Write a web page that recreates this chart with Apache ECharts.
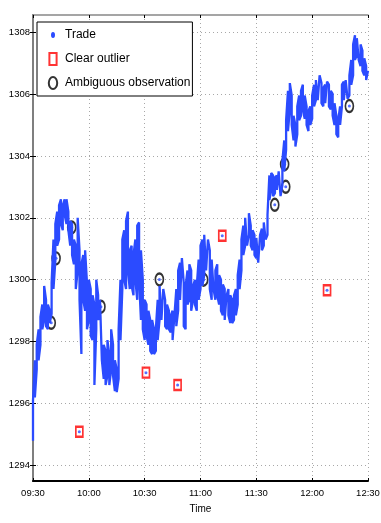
<!DOCTYPE html>
<html lang="en">
<head>
<meta charset="UTF-8">
<title>Trades and outliers</title>
<script src="https://cdn.jsdelivr.net/npm/echarts@6.0.0/dist/echarts.min.js"></script>
<style>
    html, body { margin: 0; padding: 0; background: #fff; }
    #chart { width: 381px; height: 523px; }
</style>
</head>
<body>
<div id="chart"></div>
<script type="text/javascript">
    // time axis is in minutes after 09:30
    var xTickValues = [0, 30, 60, 90, 120, 150, 180];
    var xTickLabels = ['09:30', '10:00', '10:30', '11:00', '11:30', '12:00', '12:30'];
    var yTickValues = [1294, 1296, 1298, 1300, 1302, 1304, 1306, 1308];

    // trade band, read minute by minute (low / high of the cloud)
    var tradeTime = [
        0, 1, 2, 3, 4, 5, 6, 7, 8, 9, 10, 11, 12, 13, 14, 15, 16, 17, 18, 19,
        20, 21, 22, 23, 24, 25, 26, 27, 28, 29, 30, 31, 32, 33, 34, 35, 36, 37, 38, 39,
        40, 41, 42, 43, 44, 45, 46, 47, 48, 49, 50, 51, 52, 53, 54, 55, 56, 57, 58, 59,
        60, 61, 62, 63, 64, 65, 66, 67, 68, 69, 70, 71, 72, 73, 74, 75, 76, 77, 78, 79,
        80, 81, 82, 83, 84, 85, 86, 87, 88, 89, 90, 91, 92, 93, 94, 95, 96, 97, 98, 99,
        100, 101, 102, 103, 104, 105, 106, 107, 108, 109, 110, 111, 112, 113, 114, 115, 116, 117, 118, 119,
        120, 121, 122, 123, 124, 125, 126, 127, 128, 129, 130, 131, 132, 133, 134, 135, 136, 137, 138, 139,
        140, 141, 142, 143, 144, 145, 146, 147, 148, 149, 150, 151, 152, 153, 154, 155, 156, 157, 158, 159,
        160, 161, 162, 163, 164, 165, 166, 167, 168, 169, 170, 171, 172, 173, 174, 175, 176, 177, 178, 179,
        180
    ];
    var tradeLow = [
        1294.8, 1296.2, 1297.1, 1297.4, 1297.9, 1298.4, 1298.7, 1298.5, 1298.4, 1298.6,
        1298.9, 1299.7, 1300.6, 1301.1, 1301.3, 1301.8, 1301.6, 1302.1, 1301.8, 1301.6,
        1301.1, 1300.8, 1300.5, 1299.7, 1300.3, 1299.35, 1297.6, 1299.35, 1299.0, 1298.4,
        1298.7, 1298.2, 1298.05, 1296.6, 1298.4, 1298.7, 1298.9, 1297.4, 1296.8, 1296.6,
        1296.9, 1296.6, 1297.1, 1296.9, 1296.4, 1296.37, 1296.8, 1298.05, 1299.7, 1300.0,
        1299.7, 1300.3, 1299.7, 1299.8, 1299.5, 1300.0, 1299.35, 1300.0, 1298.7, 1298.4,
        1298.05, 1298.2, 1297.9, 1297.7, 1297.6, 1297.6, 1297.7, 1298.05, 1298.7, 1298.7,
        1298.7, 1298.5, 1298.4, 1298.4, 1298.3, 1298.05, 1298.1, 1298.5, 1299.0, 1299.35,
        1299.35, 1298.5, 1298.4, 1299.2, 1299.35, 1299.0, 1299.35, 1299.2, 1299.0, 1299.35,
        1299.7, 1299.8, 1300.15, 1300.3, 1300.3, 1299.7, 1299.35, 1299.7, 1299.35, 1299.5,
        1299.2, 1299.0, 1298.85, 1298.7, 1298.7, 1298.85, 1298.6, 1298.6, 1298.7, 1298.85,
        1299.2, 1299.7, 1300.3, 1300.8, 1301.1, 1301.1, 1301.45, 1301.1, 1300.95, 1300.8,
        1300.7, 1300.55, 1300.55, 1300.95, 1301.1, 1301.3, 1301.45, 1302.57, 1302.9, 1302.7,
        1302.8, 1302.9, 1302.9, 1302.7, 1303.05, 1303.5, 1304.2, 1304.8, 1305.5, 1305.0,
        1304.5, 1304.3, 1304.7, 1305.15, 1305.3, 1305.5, 1305.2, 1305.0, 1304.8, 1305.0,
        1305.2, 1305.6, 1305.8, 1305.8, 1305.85, 1305.7, 1305.6, 1305.7, 1305.75, 1305.6,
        1305.5, 1305.3, 1305.0, 1304.7, 1304.6, 1305.0, 1305.6, 1305.8, 1305.8, 1305.85,
        1305.95, 1306.3, 1306.6, 1307.1, 1307.25, 1307.1, 1306.9, 1306.75, 1306.6, 1306.45,
        1306.45
    ];
    var tradeHigh = [
        1296.1, 1297.4, 1297.9, 1298.4, 1298.8, 1299.2, 1299.8, 1299.35, 1299.2, 1299.0,
        1299.9, 1301.3, 1301.8, 1302.2, 1302.4, 1302.6, 1302.4, 1302.6, 1302.6, 1302.2,
        1301.9, 1301.8, 1301.3, 1301.1, 1302.0, 1300.95, 1300.5, 1300.8, 1300.95, 1299.9,
        1300.0, 1299.7, 1299.5, 1299.2, 1300.0, 1299.5, 1299.35, 1299.35, 1297.9, 1297.7,
        1298.05, 1297.6, 1298.4, 1297.9, 1297.4, 1297.1, 1298.4, 1300.0, 1301.3, 1301.6,
        1301.9, 1302.2, 1300.95, 1301.1, 1300.8, 1301.3, 1301.75, 1301.85, 1300.95, 1300.0,
        1299.35, 1299.2, 1299.0, 1298.7, 1298.7, 1298.4, 1298.4, 1299.35, 1299.8, 1299.85,
        1299.7, 1299.35, 1299.2, 1299.0, 1298.85, 1299.0, 1298.85, 1299.7, 1300.3, 1300.55,
        1300.7, 1299.9, 1299.8, 1300.3, 1300.5, 1300.3, 1299.8, 1300.0, 1299.8, 1300.65,
        1301.1, 1301.3, 1301.45, 1301.5, 1301.3, 1300.95, 1300.65, 1300.65, 1300.3, 1300.5,
        1300.15, 1300.0, 1299.85, 1299.7, 1299.5, 1299.7, 1299.5, 1299.35, 1299.5, 1299.7,
        1300.15, 1300.65, 1301.3, 1301.75, 1302.0, 1302.0, 1302.15, 1301.75, 1301.6, 1301.45,
        1301.35, 1301.3, 1301.45, 1301.65, 1301.85, 1301.9, 1302.1, 1303.37, 1303.45, 1303.37,
        1303.3, 1303.37, 1303.5, 1303.45, 1303.85, 1304.5, 1305.15, 1306.1, 1306.35, 1305.95,
        1305.3, 1305.0, 1305.6, 1305.95, 1306.1, 1306.3, 1305.95, 1305.6, 1305.45, 1305.6,
        1305.95, 1306.3, 1306.45, 1306.45, 1306.6, 1306.35, 1306.2, 1306.3, 1306.4, 1306.3,
        1306.1, 1306.0, 1305.7, 1305.3, 1305.15, 1305.6, 1306.3, 1306.4, 1306.45, 1306.5,
        1306.6, 1307.1, 1307.6, 1307.9, 1307.8, 1307.75, 1307.6, 1307.4, 1307.15, 1306.9,
        1306.75
    ];

    var clearOutlierTime = [24.9, 60.7, 77.7, 101.7, 158];
    var clearOutlierPrice = [1295.09, 1297.0, 1296.6, 1301.42, 1299.66];

    var ambiguousTime = [9.8, 12.4, 20.8, 36.5, 67.9, 91.7, 129.9, 135.8, 135.2, 170];
    var ambiguousPrice = [1298.61, 1300.69, 1301.69, 1299.13, 1300.01, 1300.0, 1302.42, 1303.0, 1303.73, 1305.61];

    var FONT = "'Liberation Sans', Arial, sans-serif";
    var BLUE = '#2b4bff';

    function pairs(xs, ys) {
        var out = [];
        for (var i = 0; i < xs.length; i++) {
            out.push([xs[i], ys[i]]);
        }
        return out;
    }

    // zig-zag through low/high of every minute so the line fills the cloud
    var tradePath = [];
    for (var i = 0; i < tradeTime.length; i++) {
        if (i % 2 === 0) {
            tradePath.push([tradeTime[i], tradeLow[i]], [tradeTime[i], tradeHigh[i]]);
        } else {
            tradePath.push([tradeTime[i], tradeHigh[i]], [tradeTime[i], tradeLow[i]]);
        }
    }
    var outlierTrades = pairs(clearOutlierTime, clearOutlierPrice).concat(pairs(ambiguousTime, ambiguousPrice));

    var chartDom = document.getElementById('chart');
    var myChart = echarts.init(chartDom);
    var option;

    var splitStyle = { show: true, lineStyle: { color: '#a8a8a8', type: [1, 3], width: 1 } };

    option = {
        animation: false,
        backgroundColor: '#fff',
        grid: { left: 33, right: 13, top: 15, bottom: 42, containLabel: false, outerBoundsMode: 'none' },
        legend: {
            left: 37,
            top: 22,
            orient: 'vertical',
            backgroundColor: '#fff',
            borderColor: '#000',
            borderWidth: 1,
            borderRadius: 0,
            padding: [5, 2, 5, 9],
            itemWidth: 14,
            itemHeight: 12,
            itemGap: 8,
            selectedMode: false,
            textStyle: { fontFamily: FONT, fontSize: 12, color: '#000', lineHeight: 16 },
            data: [
                {
                    name: 'Trade',
                    icon: 'path://M0,0M14,12M7,3A2,3 0 1,1 7,9A2,3 0 1,1 7,3Z',
                    itemStyle: { color: BLUE, borderWidth: 0 }
                },
                {
                    name: 'Clear outlier',
                    icon: 'path://M0,0H6V10H0Z',
                    itemStyle: { color: '#fff', borderColor: '#ff0000', borderWidth: 2 }
                },
                {
                    name: 'Ambiguous observation',
                    icon: 'path://M3.5,0A3.5,5 0 1,1 3.5,10A3.5,5 0 1,1 3.5,0Z',
                    itemStyle: { color: '#fff', borderColor: '#000', borderWidth: 2 }
                }
            ]
        },
        xAxis: [
            {
                type: 'value',
                position: 'bottom',
                min: 0,
                max: 180,
                interval: 30,
                name: 'Time',
                nameLocation: 'middle',
                nameGap: 23,
                nameTextStyle: { fontFamily: FONT, fontSize: 10, color: '#000' },
                axisLine: { show: true, lineStyle: { color: '#000', width: 2 } },
                axisTick: { show: true, inside: true, length: 3, lineStyle: { color: '#000' } },
                axisLabel: {
                    fontFamily: FONT, fontSize: 9.5, color: '#000', margin: 7,
                    formatter: function (v) { return xTickLabels[xTickValues.indexOf(v)]; }
                },
                splitLine: splitStyle
            },
            {
                type: 'value',
                position: 'top',
                min: 0,
                max: 180,
                interval: 30,
                axisLine: { show: true, lineStyle: { color: '#888', width: 1.5 } },
                axisTick: { show: true, inside: true, length: 3, lineStyle: { color: '#000' } },
                axisLabel: { show: false },
                splitLine: { show: false }
            }
        ],
        yAxis: [
            {
                type: 'value',
                position: 'left',
                min: 1293.5,
                max: 1308.55,
                name: 'Price',
                nameLocation: 'middle',
                nameGap: 24,
                nameTextStyle: { fontFamily: FONT, fontSize: 10, color: '#000' },
                axisLine: { show: true, lineStyle: { color: '#666', width: 2 } },
                axisTick: { show: true, inside: true, length: 3, customValues: yTickValues, lineStyle: { color: '#000' } },
                axisLabel: {
                    fontFamily: FONT, fontSize: 9.5, color: '#000', margin: 3, customValues: yTickValues,
                    formatter: function (v) { return String(v); }
                },
                splitLine: splitStyle
            },
            {
                type: 'value',
                position: 'right',
                min: 1293.5,
                max: 1308.55,
                axisLine: { show: true, lineStyle: { color: '#888', width: 1.5 } },
                axisTick: { show: true, inside: true, length: 3, customValues: yTickValues, lineStyle: { color: '#000' } },
                axisLabel: { show: false, customValues: yTickValues },
                splitLine: { show: false }
            }
        ],
        series: [
            {
                name: 'Trade',
                type: 'line',
                xAxisIndex: 0,
                yAxisIndex: 0,
                data: tradePath,
                symbol: 'none',
                silent: true,
                lineStyle: { color: BLUE, width: 2.3 },
                itemStyle: { color: BLUE }
            },
            {
                name: 'Clear outlier',
                type: 'scatter',
                data: pairs(clearOutlierTime, clearOutlierPrice),
                symbol: 'rect',
                symbolSize: [7, 10],
                itemStyle: { color: '#fff', borderColor: '#ff0000', borderWidth: 2 }
            },
            {
                name: 'Ambiguous observation',
                type: 'scatter',
                data: pairs(ambiguousTime, ambiguousPrice),
                symbol: 'path://M4,0A4,6 0 1,1 4,12A4,6 0 1,1 4,0Z',
                symbolSize: [8, 12],
                itemStyle: { color: 'rgba(255,255,255,0)', borderColor: '#000', borderWidth: 2 }
            },
            {
                name: 'Trade',
                type: 'scatter',
                data: outlierTrades,
                symbolSize: 3,
                z: 5,
                itemStyle: { color: BLUE }
            }
        ]
    };
    option && myChart.setOption(option);
</script>
</body>
</html>
